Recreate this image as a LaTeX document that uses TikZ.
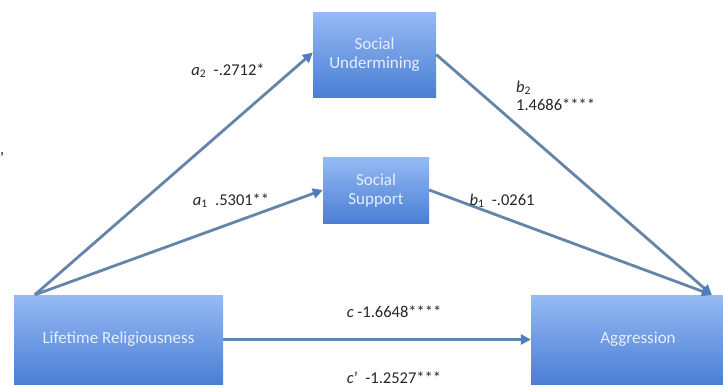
\documentclass[tikz,border=0pt]{standalone}
\usepackage{fontspec}
\setmainfont{Carlito}
\usetikzlibrary{arrows.meta}
\definecolor{boxtop}{HTML}{96BAF4}
\definecolor{boxbot}{HTML}{4A7ED4}
\definecolor{linec}{HTML}{6584AA}
\definecolor{tipc}{HTML}{4F7CC0}
\definecolor{boxtext}{HTML}{E6EEFB}
\tikzset{
  varbox/.style={top color=boxtop, bottom color=boxbot, draw=none, inner sep=0pt,
    text=boxtext, align=center, font=\fontsize{17}{19}\selectfont},
  patharrow/.style={draw=linec, line width=2.8pt,
    -{Triangle[length=10pt,width=10pt,color=tipc]}},
  coef/.style={font=\fontsize{16.5}{19}\selectfont, text=black!85, inner sep=0pt, anchor=base}
}
\begin{document}
\begin{tikzpicture}[x=1pt,y=-1pt]
\useasboundingbox (0,0) rectangle (723,386);
\fill[white] (0,0) rectangle (723,386);

\node[varbox, minimum width=209pt, minimum height=89pt] (LR) at (118.5,339.5) {Lifetime Religiousness};
\node[varbox, minimum width=214pt, minimum height=89pt] (AG) at (638,339.5) {Aggression};
\node[varbox, minimum width=123pt, minimum height=85pt] (SU) at (374.5,54.5) {Social\\Undermining};
\node[varbox, minimum width=106pt, minimum height=66pt] (SS) at (376,190) {Social\\Support};

\coordinate (LRs) at ([xshift=21pt]LR.north west);
\coordinate (AGe) at ([xshift=181pt]AG.north west);

\draw[patharrow] (LRs) -- ([yshift=2pt]SU.west);
\draw[patharrow] (LRs) -- (SS.west);
\draw[patharrow] (SU.east) -- (AGe);
\draw[patharrow] (SS.east) -- (AGe);
\draw[patharrow] (LR.east) -- (AG.west);

\node[coef] (la2) at (228,75) {{\itshape a}\textsubscript{2}\ \ -.2712*};
\node[coef] (la1) at (231,205) {{\itshape a}\textsubscript{1}\ \ .5301**};
\node[coef, anchor=base west] (lb2) at (516,92) {{\itshape b}\textsubscript{2}};
\node[coef, anchor=base west] (lb2v) at (516,110) {1.4686****};
\node[coef] (lb1) at (502,205) {{\itshape b}\textsubscript{1}\ \ -.0261};
\node[coef] (lc) at (394,317) {{\itshape c}\ -1.6648****};
\node[coef] (lcp) at (394,383) {{\itshape c}\textquoteright\ \ -1.2527***};
\node[coef, anchor=north west] (comma) at (0,152) {,};
\end{tikzpicture}
\end{document}
